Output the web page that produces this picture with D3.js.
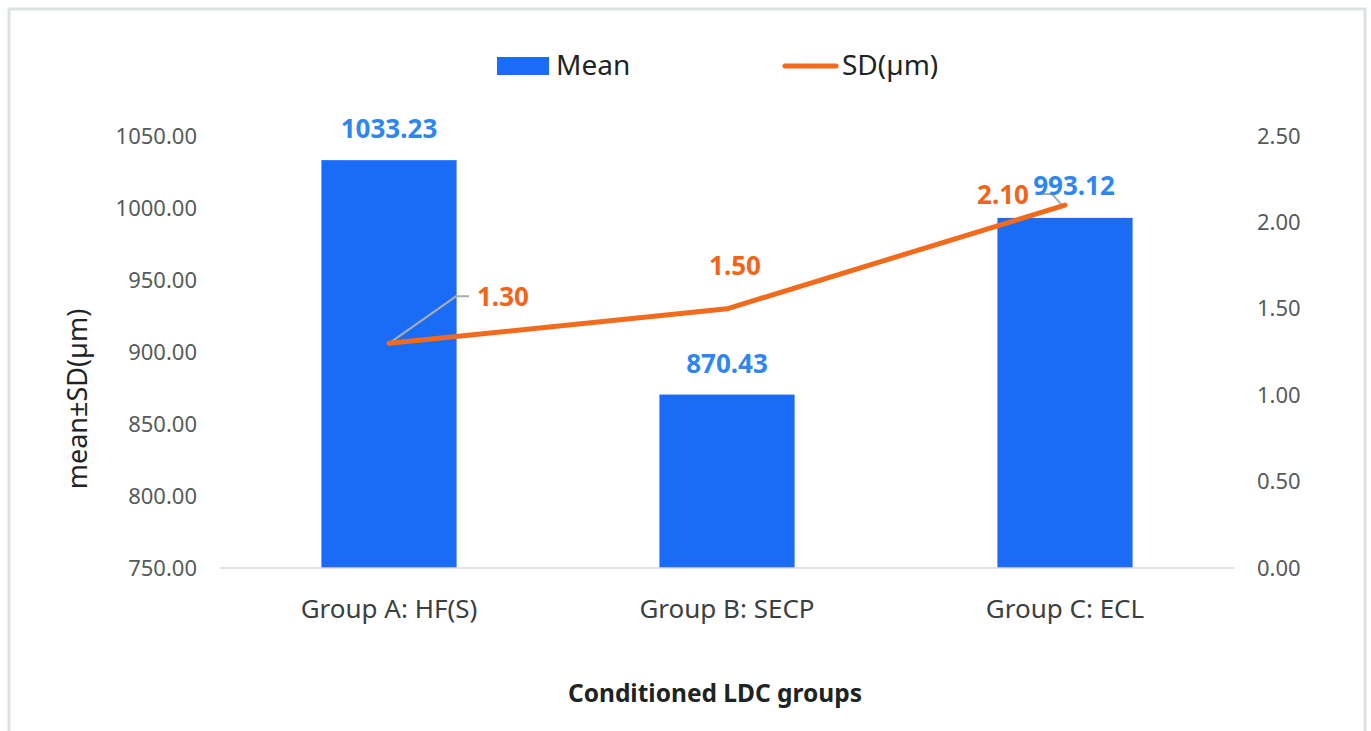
<!DOCTYPE html>
<html>
<head>
<meta charset="utf-8">
<script src="https://cdn.jsdelivr.net/npm/d3@7"></script>
<style>
  html, body { margin: 0; padding: 0; background: #fff; }
  svg text { font-family: "Noto Sans", "Open Sans", sans-serif; }
</style>
</head>
<body>
<svg id="chart" width="1371" height="731"></svg>
<script>
// chart data
const groups = ['Group A: HF(S)', 'Group B: SECP', 'Group C: ECL'];
const meanValues = [1033.23, 870.43, 993.12];
const sdValues = [1.30, 1.50, 2.10];
const leftTicks = [750, 800, 850, 900, 950, 1000, 1050];
const rightTicks = [0, 0.5, 1.0, 1.5, 2.0, 2.5];

const barColor = '#1a6cf6';
const lineColor = '#f26a1b';
const meanLabelColor = '#2f86ee';
const sdLabelColor = '#f0651a';
const tickColor = '#555b5b';
const titleColor = '#1e2424';

const svg = d3.select('#chart');

// outer frame
svg.append('rect')
  .attr('x', 9).attr('y', 9)
  .attr('width', 1356).attr('height', 740)
  .attr('fill', '#fff')
  .attr('stroke', '#dde3e3')
  .attr('stroke-width', 3);

const plot = { left: 220, right: 1234, top: 136, bottom: 568 };

const x = d3.scaleBand()
  .domain(groups)
  .range([plot.left, plot.right])
  .paddingInner(0.6)
  .paddingOuter(0.3);

const yLeft = d3.scaleLinear().domain([750, 1050]).range([plot.bottom, plot.top]);
const yRight = d3.scaleLinear().domain([0, 2.5]).range([plot.bottom, plot.top]);

// left axis
const leftAxis = svg.append('g')
  .attr('transform', `translate(${plot.left - 23},0)`)
  .call(d3.axisLeft(yLeft).tickValues(leftTicks).tickFormat(d3.format('.2f')).tickSize(0).tickPadding(0));
leftAxis.select('.domain').remove();
leftAxis.selectAll('text')
  .attr('font-size', 22)
  .attr('fill', tickColor);

// right axis
const rightAxis = svg.append('g')
  .attr('transform', `translate(${plot.right + 23},0)`)
  .call(d3.axisRight(yRight).tickValues(rightTicks).tickFormat(d3.format('.2f')).tickSize(0).tickPadding(0));
rightAxis.select('.domain').remove();
rightAxis.selectAll('text')
  .attr('font-size', 22)
  .attr('fill', tickColor);

// bars
svg.selectAll('.bar')
  .data(groups)
  .enter()
  .append('rect')
  .attr('class', 'bar')
  .attr('x', d => x(d))
  .attr('y', (d, i) => yLeft(meanValues[i]))
  .attr('width', x.bandwidth())
  .attr('height', (d, i) => plot.bottom - yLeft(meanValues[i]))
  .attr('fill', barColor);

// baseline
svg.append('line')
  .attr('x1', plot.left).attr('x2', plot.right)
  .attr('y1', plot.bottom).attr('y2', plot.bottom)
  .attr('stroke', '#d9d9d9')
  .attr('stroke-width', 1.5);

// x axis labels
const xAxis = svg.append('g')
  .attr('transform', `translate(0,${plot.bottom})`)
  .call(d3.axisBottom(x).tickSize(0).tickPadding(0));
xAxis.select('.domain').remove();
xAxis.selectAll('text')
  .attr('dy', null)
  .attr('y', 50)
  .attr('font-size', 26)
  .attr('fill', '#3a4040');

const cx = (d) => x(d) + x.bandwidth() / 2;

// leader lines for SD labels (drawn under the line)
const pA = [cx(groups[0]), yRight(sdValues[0])];
const pC = [cx(groups[2]), yRight(sdValues[2])];
const leaderA = [pA, [pA[0] + 67, pA[1] - 47], [pA[0] + 80, pA[1] - 47]];
const leaderC = [[pC[0] - 3, pC[1]], [pC[0] - 13, pC[1] - 11], [pC[0] - 25, pC[1] - 11]];
[leaderA, leaderC].forEach(pts => {
  svg.append('path')
    .attr('d', d3.line()(pts))
    .attr('fill', 'none')
    .attr('stroke', '#a6aeb0')
    .attr('stroke-width', 2);
});

// SD line
const line = d3.line()
  .x((d, i) => cx(groups[i]))
  .y(d => yRight(d));

svg.append('path')
  .datum(sdValues)
  .attr('d', line)
  .attr('fill', 'none')
  .attr('stroke', lineColor)
  .attr('stroke-width', 5)
  .attr('stroke-linecap', 'round')
  .attr('stroke-linejoin', 'round');

// mean labels
const meanOffsets = [[0, -22], [0, -22], [9, -23]];
svg.selectAll('.mean-label')
  .data(groups)
  .enter()
  .append('text')
  .attr('class', 'mean-label')
  .attr('x', (d, i) => cx(d) + meanOffsets[i][0])
  .attr('y', (d, i) => yLeft(meanValues[i]) + meanOffsets[i][1])
  .attr('text-anchor', 'middle')
  .attr('font-size', 26)
  .attr('font-weight', 'bold')
  .attr('fill', meanLabelColor)
  .text((d, i) => d3.format('.2f')(meanValues[i]));

// SD labels
const sdOffsets = [[88, -37, 'start'], [8, -34, 'middle'], [-36, -1, 'end']];
svg.selectAll('.sd-label')
  .data(groups)
  .enter()
  .append('text')
  .attr('class', 'sd-label')
  .attr('x', (d, i) => cx(d) + sdOffsets[i][0])
  .attr('y', (d, i) => yRight(sdValues[i]) + sdOffsets[i][1])
  .attr('text-anchor', (d, i) => sdOffsets[i][2])
  .attr('font-size', 26)
  .attr('font-weight', 'bold')
  .attr('fill', sdLabelColor)
  .text((d, i) => d3.format('.2f')(sdValues[i]));

// y axis title
svg.append('text')
  .attr('transform', 'translate(87,399) rotate(-90)')
  .attr('text-anchor', 'middle')
  .attr('font-size', 27)
  .attr('fill', titleColor)
  .text('mean±SD(µm)');

// x axis title
svg.append('text')
  .attr('x', 715)
  .attr('y', 702)
  .attr('text-anchor', 'middle')
  .attr('font-size', 24.5)
  .attr('font-weight', 'bold')
  .attr('fill', titleColor)
  .text('Conditioned LDC groups');

// legend
const legend = svg.append('g');
legend.append('rect')
  .attr('x', 497).attr('y', 57)
  .attr('width', 52).attr('height', 18)
  .attr('fill', barColor);
legend.append('text')
  .attr('x', 556).attr('y', 75)
  .attr('font-size', 28)
  .attr('fill', titleColor)
  .text('Mean');
legend.append('line')
  .attr('x1', 785).attr('x2', 836)
  .attr('y1', 66).attr('y2', 66)
  .attr('stroke', lineColor)
  .attr('stroke-width', 5)
  .attr('stroke-linecap', 'round');
legend.append('text')
  .attr('x', 842).attr('y', 75)
  .attr('font-size', 28)
  .attr('fill', titleColor)
  .text('SD(µm)');
</script>
</body>
</html>
